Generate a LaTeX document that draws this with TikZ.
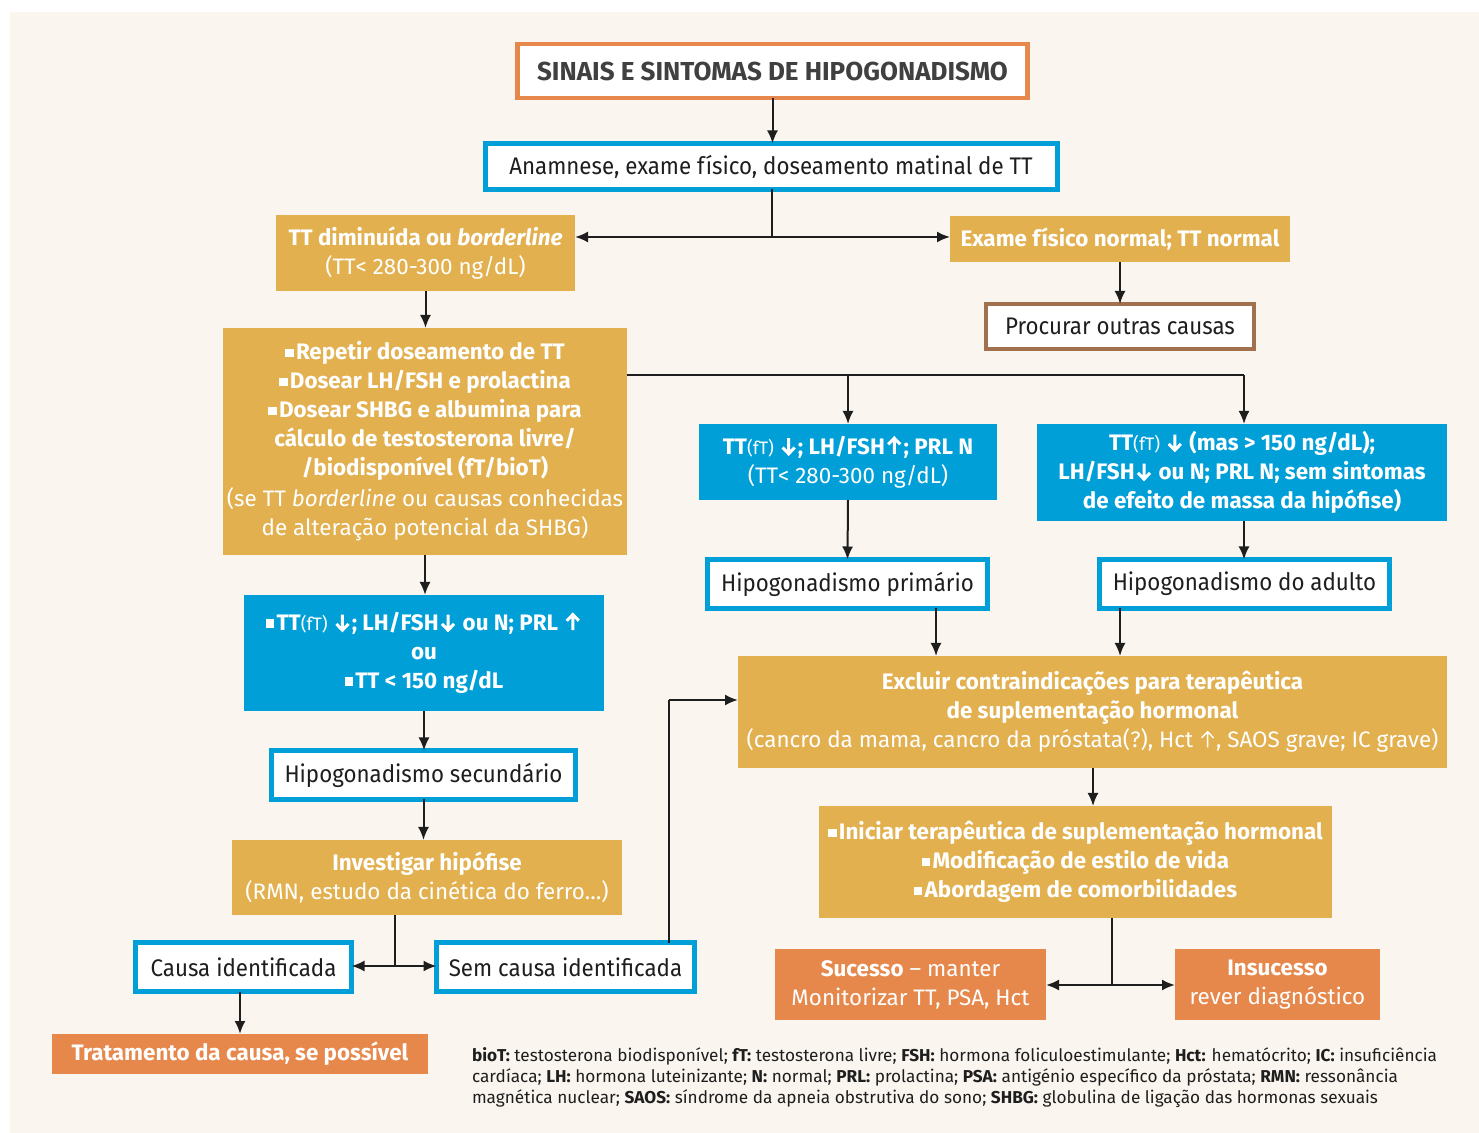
\documentclass[tikz,border=0pt]{standalone}
\usepackage{fontspec}
\setmainfont{Fira Sans}
\newfontfamily\condfont[FakeStretch=0.93]{Fira Sans}
\usetikzlibrary{arrows.meta}
\definecolor{bgc}{HTML}{FAF5EE}
\definecolor{gold}{HTML}{E2B04F}
\definecolor{blu}{HTML}{009FD8}
\definecolor{org}{HTML}{E6884B}
\definecolor{brn}{HTML}{A0714C}
\definecolor{ink}{HTML}{1E1E1E}
\newcommand{\arrowglyph}[2]{\kern0.08em\tikz[baseline=0pt]{\draw[white, line width=#1, line join=miter] (0pt,#2*0.02em) -- (0pt,#2*0.72em) (-0.27em,#2*0.44em) -- (0pt,#2*0.72em) -- (0.27em,#2*0.44em);}\kern0.08em}
\newcommand{\myDn}{\raisebox{0.74em}{\arrowglyph{1.5pt}{-1}}}
\newcommand{\myUp}{\arrowglyph{1.5pt}{1}}
\newcommand{\myUpL}{\arrowglyph{0.7pt}{1}}
\newcommand{\sq}{\raisebox{0.12em}{\rule{0.38em}{0.38em}}\kern0.1em}
\newcommand{\sml}[1]{{\mdseries\fontsize{9}{10}\selectfont #1}}
\tikzset{
  base/.style={inner sep=0pt, outer sep=0pt, align=center},
  goldbox/.style={base, fill=gold, text=white, font=\fontsize{11.2}{14.5}\selectfont},
  bluebox/.style={base, fill=blu, text=white, font=\fontsize{11.2}{14.5}\selectfont},
  orgbox/.style={base, fill=org, text=white, font=\fontsize{11.2}{14.5}\selectfont},
  outblue/.style={base, draw=blu, line width=2.5pt, fill=white, text=ink, font=\condfont\fontsize{12}{14}\selectfont},
  outorg/.style={base, draw=org, line width=2.2pt, fill=white, text=ink!85, font=\fontsize{13}{15}\selectfont\bfseries},
  outbrn/.style={base, draw=brn, line width=2.2pt, fill=white, text=ink, font=\condfont\fontsize{12}{14}\selectfont},
  conn/.style={line width=1pt, draw=ink},
  arr/.style={conn, -{Latex[length=6.5pt,width=5.5pt]}},
}
\begin{document}
\begin{tikzpicture}[x=0.5pt,y=-0.5pt]
\useasboundingbox (0,0) rectangle (1479,1133);
\fill[white] (0,0) rectangle (1479,1133);
\fill[bgc] (10,12) rectangle (1479,1133);

% boxes
\node[outorg, minimum width=255pt, minimum height=27pt] (title) at (772.5,71) {SINAIS E SINTOMAS DE HIPOGONADISMO};
\node[outblue, minimum width=286pt, minimum height=23pt] (anam) at (771,166.5) {Anamnese, exame físico, doseamento matinal de TT};
\node[goldbox, minimum width=149.5pt, minimum height=38pt] (ttdim) at (425.5,253) {\textbf{TT diminuída ou \textit{borderline}}\\(TT< 280-300 ng/dL)};
\node[goldbox, minimum width=170pt, minimum height=23pt] (exame) at (1120,239) {\textbf{Exame físico normal; TT normal}};
\node[outbrn, minimum width=134pt, minimum height=22.5pt] (proc) at (1120,326.5) {Procurar outras causas};
\node[goldbox, minimum width=202pt, minimum height=113.5pt] (big) at (425,441.5) {\textbf{\sq Repetir doseamento de TT}\\\textbf{\sq Dosear LH/FSH e prolactina}\\\textbf{\sq Dosear SHBG e albumina para}\\\textbf{cálculo de testosterona livre/}\\\textbf{/biodisponível (fT/bioT)}\\[1pt](se TT \textit{borderline} ou causas conhecidas\\de alteração potencial da SHBG)};
\node[bluebox, minimum width=149pt, minimum height=38pt] (blue1) at (848,462) {\textbf{TT\sml{(fT)} \myDn; LH/FSH\myUp; PRL N}\\(TT< 280-300 ng/dL)};
\node[bluebox, minimum width=205pt, minimum height=48.5pt] (blue2) at (1242,472.5) {\textbf{TT\sml{(fT)} \myDn{} (mas > 150 ng/dL);}\\\textbf{LH/FSH\myDn{} ou N; PRL N; sem sintomas}\\\textbf{de efeito de massa da hipófise)}};
\node[outblue, minimum width=140pt, minimum height=24.5pt] (prim) at (847.5,584) {Hipogonadismo primário};
\node[outblue, minimum width=145pt, minimum height=24.5pt] (adult) at (1244.5,584) {Hipogonadismo do adulto};
\node[goldbox, minimum width=354.5pt, minimum height=56pt] (excl) at (1092.5,712) {\textbf{Excluir contraindicações para terapêutica}\\\textbf{de suplementação hormonal}\\(cancro da mama, cancro da próstata(?), Hct \myUpL, SAOS grave; IC grave)};
\node[goldbox, minimum width=256.5pt, minimum height=56pt] (inic) at (1075.5,862) {\textbf{\sq Iniciar terapêutica de suplementação hormonal}\\\textbf{\sq Modificação de estilo de vida}\\\textbf{\sq Abordagem de comorbilidades}};
\node[orgbox, minimum width=135.5pt, minimum height=35.5pt] (suc) at (910.5,984.5) {\textbf{Sucesso} – manter\\Monitorizar TT, PSA, Hct};
\node[orgbox, minimum width=102.5pt, minimum height=35.5pt] (insuc) at (1277.5,984.5) {\textbf{Insucesso}\\rever diagnóstico};
\node[bluebox, minimum width=180pt, minimum height=58pt] (blueL) at (424,653) {\textbf{\sq TT\sml{(fT)} \myDn; LH/FSH\myDn{} ou N; PRL \myUp}\\\textbf{ou}\\\textbf{\sq TT < 150 ng/dL}};
\node[outblue, minimum width=152pt, minimum height=24.5pt] (sec) at (423.5,775) {Hipogonadismo secundário};
\node[goldbox, minimum width=195pt, minimum height=37.5pt] (inv) at (427,877.5) {\textbf{Investigar hipófise}\\(RMN, estudo da cinética do ferro…)};
\node[outblue, minimum width=108pt, minimum height=24.5pt] (causa) at (243.5,967) {Causa identificada};
\node[outblue, minimum width=129pt, minimum height=24.5pt] (sem) at (565.5,967) {Sem causa identificada};
\node[orgbox, minimum width=188pt, minimum height=20pt] (trat) at (240,1054) {\textbf{Tratamento da causa, se possível}};
\node[base, anchor=north west, align=left, text=ink, font=\fontsize{8.6}{10.5}\selectfont] (leg) at (472,1048) {\textbf{bioT:} testosterona biodisponível; \textbf{fT:} testosterona livre; \textbf{FSH:} hormona foliculoestimulante; \textbf{Hct:} hematócrito; \textbf{IC:} insuficiência\\cardíaca; \textbf{LH:} hormona luteinizante; \textbf{N:} normal; \textbf{PRL:} prolactina; \textbf{PSA:} antigénio específico da próstata; \textbf{RMN:} ressonância\\magnética nuclear; \textbf{SAOS:} síndrome da apneia obstrutiva do sono; \textbf{SHBG:} globulina de ligação das hormonas sexuais};

% connectors
\draw[arr] (title.south) -- (title.south |- anam.north);
\coordinate (j1) at (772,237);
\draw[conn] (anam.south -| j1) -- (j1);
\draw[arr] (j1) -- (j1 -| ttdim.east);
\draw[arr] (j1) -- (j1 -| exame.west);
\draw[arr] (exame.south) -- (proc.north);
\draw[arr] (ttdim.south) -- (ttdim.south |- big.north);
\coordinate (j2) at (1244,375);
\draw[conn] (big.east |- j2) -- (j2);
\draw[arr] (848,375) -- (blue1.north);
\draw[arr] (j2) -- (j2 |- blue2.north);
\draw[arr] (blue1.south) -- (prim.north);
\draw[arr] (blue2.south -| j2) -- (j2 |- adult.north);
\coordinate (k1) at (936,611);
\coordinate (k2) at (1120,611);
\draw[arr] (k1 |- prim.south) -- (k1 |- excl.north);
\draw[arr] (k2 |- adult.south) -- (k2 |- excl.north);
\coordinate (k3) at (1093,768);
\draw[arr] (k3 |- excl.south) -- (k3 |- inic.north);
\coordinate (j3) at (1112,985);
\draw[conn] (j3 |- inic.south) -- (j3);
\draw[arr] (j3) -- (j3 -| suc.east);
\draw[arr] (j3) -- (j3 -| insuc.west);
\draw[arr] (big.south) -- (big.south |- blueL.north);
\draw[arr] (blueL.south) -- (blueL.south |- sec.north);
\draw[arr] (sec.south) -- (sec.south |- inv.north);
\coordinate (j4) at (395,966);
\draw[conn] (j4 |- inv.south) -- (j4);
\draw[arr] (j4) -- (j4 -| causa.east);
\draw[arr] (j4) -- (j4 -| sem.west);
\coordinate (j5) at (669,700);
\draw[conn] (j5 |- sem.north) -- (j5);
\draw[arr] (j5) -- (j5 -| excl.west);
\coordinate (k4) at (240,994);
\draw[arr] (k4 |- causa.south) -- (k4 |- trat.north);
\end{tikzpicture}
\end{document}
